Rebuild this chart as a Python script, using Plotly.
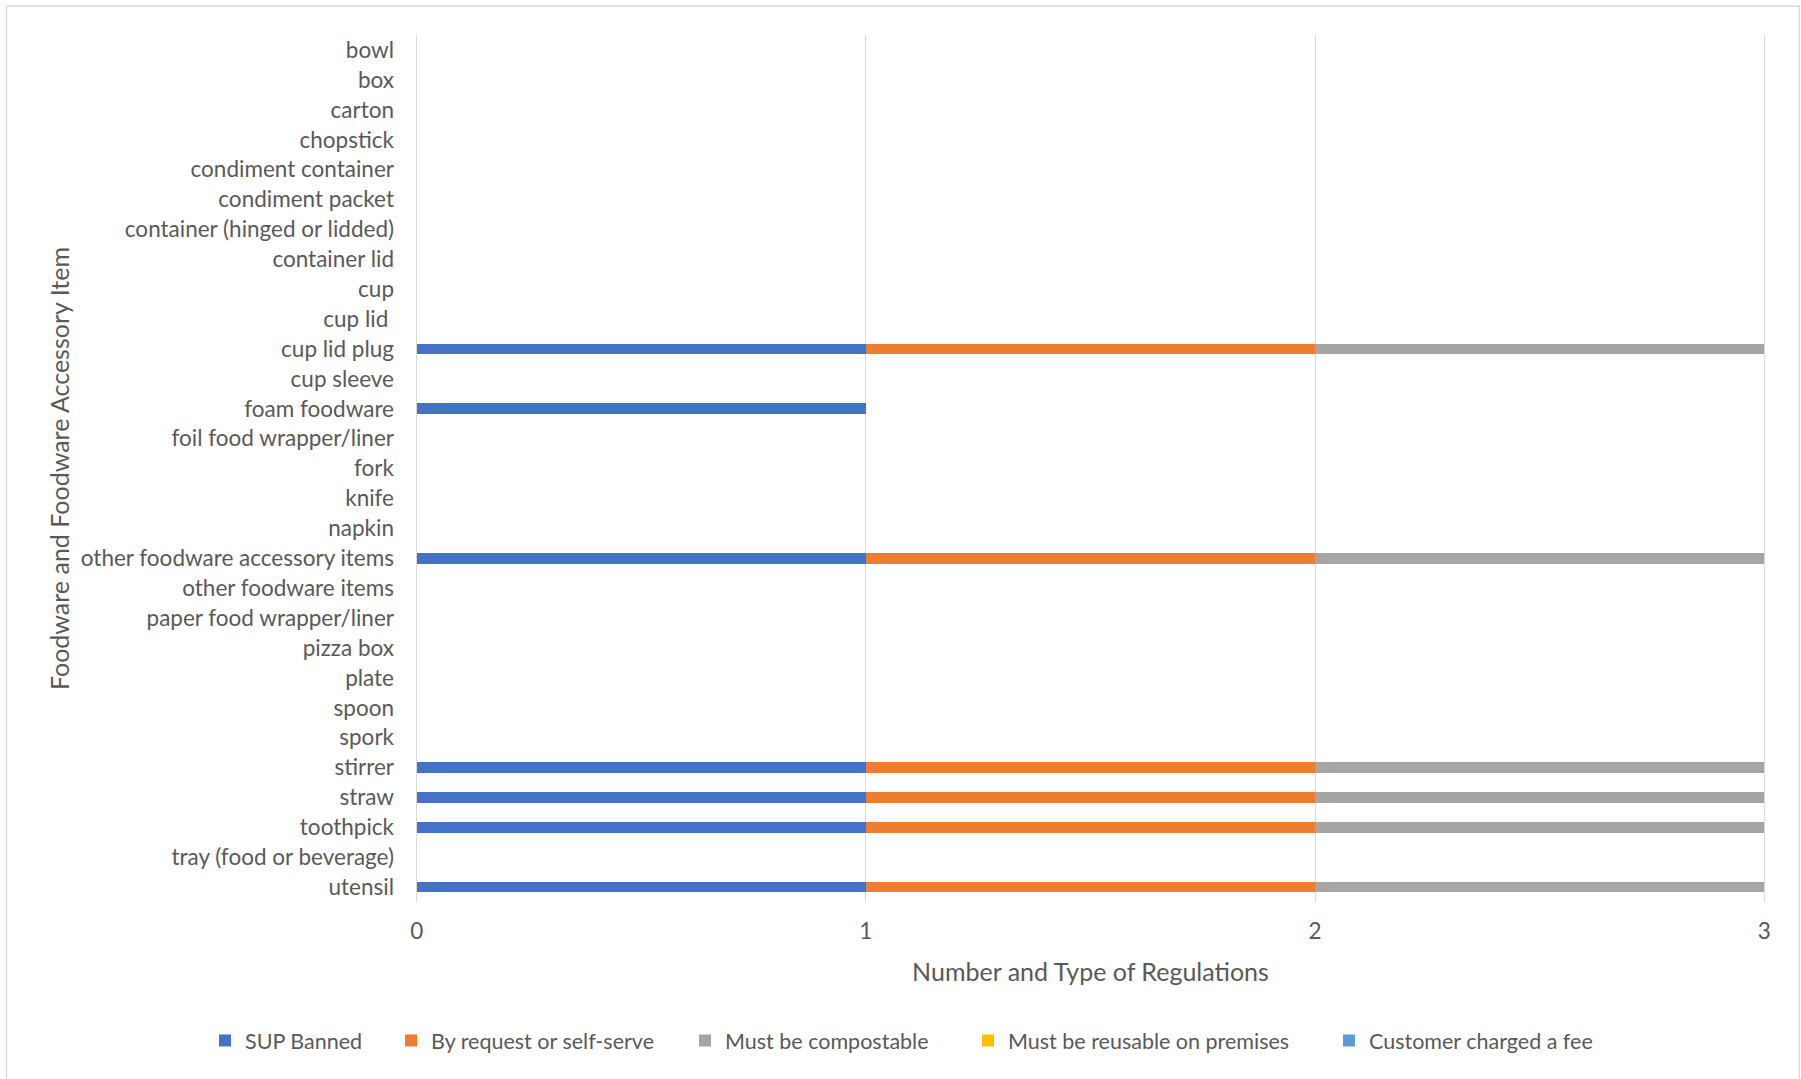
import plotly.graph_objects as go

# Foodware items, listed top to bottom
items = [
    "bowl", "box", "carton", "chopstick", "condiment container", "condiment packet",
    "container (hinged or lidded)", "container lid", "cup", "cup lid\u00a0", "cup lid plug",
    "cup sleeve", "foam foodware", "foil food wrapper/liner", "fork", "knife", "napkin",
    "other foodware accessory items", "other foodware items", "paper food wrapper/liner",
    "pizza box", "plate", "spoon", "spork", "stirrer", "straw", "toothpick",
    "tray (food or beverage)", "utensil",
]

sup_banned = [0, 0, 0, 0, 0, 0, 0, 0, 0, 0, 1, 0, 1, 0, 0, 0, 0, 1, 0, 0, 0, 0, 0, 0, 1, 1, 1, 0, 1]
by_request = [0, 0, 0, 0, 0, 0, 0, 0, 0, 0, 1, 0, 0, 0, 0, 0, 0, 1, 0, 0, 0, 0, 0, 0, 1, 1, 1, 0, 1]
compostable = [0, 0, 0, 0, 0, 0, 0, 0, 0, 0, 1, 0, 0, 0, 0, 0, 0, 1, 0, 0, 0, 0, 0, 0, 1, 1, 1, 0, 1]
reusable = [0] * len(items)
fee_charged = [0] * len(items)

x_ticks = [0, 1, 2, 3]

series = [
    ("SUP Banned", sup_banned, "#4472C4"),
    ("By request or self-serve", by_request, "#ED7D31"),
    ("Must be compostable", compostable, "#A5A5A5"),
    ("Must be reusable on premises", reusable, "#FFC000"),
    ("Customer charged a fee", fee_charged, "#5B9BD5"),
]

# one legend per series so each entry sits at its own position along the bottom
legend_x = [205, 391, 685, 968, 1329]

W, H = 1801, 1079
FONT = "Lato"
TXT = "#595959"

# value 0 sits at x=417 and value 3 at x=1764; the range is padded a little
# so the gridlines at both ends are kept inside the plot area
X0_PX, X3_PX = 417, 1764
PAD = 0.006
unit = (X3_PX - X0_PX) / 3
PLOT_L = X0_PX - PAD * unit
PLOT_R = X3_PX + PAD * unit
PLOT_T, PLOT_B = 35, 902

fig = go.Figure()
for i, (name, vals, color) in enumerate(series):
    lg = "legend" if i == 0 else f"legend{i + 1}"
    fig.add_trace(go.Bar(
        y=items, x=vals, name=name, orientation="h",
        marker=dict(color=color, line=dict(width=0)),
        legend=lg,
    ))

layout_legends = {}
for i, lx in enumerate(legend_x):
    key = "legend" if i == 0 else f"legend{i + 1}"
    layout_legends[key] = dict(
        xref="container", yref="container",
        x=lx / W, y=1 - 1040.5 / H, xanchor="left", yanchor="middle",
        orientation="h", bgcolor="rgba(0,0,0,0)", borderwidth=0,
        font=dict(family=FONT, size=21.5, color=TXT),
    )

pw = PLOT_R - PLOT_L
ph = PLOT_B - PLOT_T

fig.update_layout(
    width=W, height=H,
    barmode="stack", bargap=0.64,
    paper_bgcolor="white", plot_bgcolor="white",
    margin=dict(l=PLOT_L, r=W - PLOT_R, t=PLOT_T, b=H - PLOT_B, autoexpand=False),
    font=dict(family=FONT, size=22.5, color=TXT),
    xaxis=dict(
        range=[-PAD, 3 + PAD], tickvals=x_ticks,
        showgrid=True, gridcolor="#D9D9D9", gridwidth=1.3,
        zeroline=False, showline=False, ticks="",
        ticklabelstandoff=13,
        tickfont=dict(family=FONT, size=22.5, color=TXT),
        title=dict(text="Number and Type of Regulations", standoff=20,
                   font=dict(family=FONT, size=25, color=TXT)),
    ),
    yaxis=dict(
        categoryorder="array", categoryarray=items, autorange="reversed",
        showgrid=False, zeroline=False, showline=False, ticks="",
        ticklabelstandoff=19,
        tickfont=dict(family=FONT, size=22.5, color=TXT),
        title=dict(text="Foodware and Foodware Accessory Item", standoff=4,
                   font=dict(family=FONT, size=25, color=TXT)),
    ),
    shapes=[dict(
        type="rect", xref="paper", yref="paper",
        x0=(7 - PLOT_L) / pw, x1=(1799 - PLOT_L) / pw,
        y0=(PLOT_B - 1090) / ph, y1=(PLOT_B - 6) / ph,
        line=dict(color="#D9D9D9", width=1.3), fillcolor="rgba(0,0,0,0)", layer="below",
    )],
    showlegend=True,
    **layout_legends,
)

fig.write_html("out.html")
